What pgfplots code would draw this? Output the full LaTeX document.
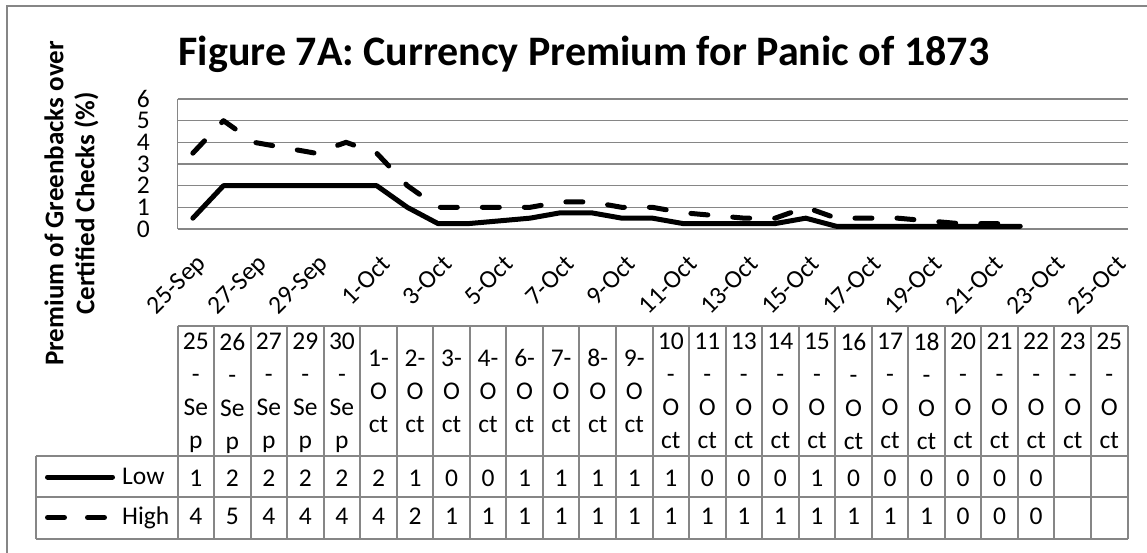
\documentclass[border=0pt]{standalone}
\usepackage{pgfplots}
\pgfplotsset{compat=1.18}
\usepackage{pgfplotstable}
\usepackage{fontspec}
\setmainfont{Carlito}
\definecolor{gridgray}{RGB}{134,134,134}
\newcommand\tf{\fontsize{25.5bp}{33bp}\selectfont}

% d = day index (0 = 25-Sep), low/high = premium (%), lr/hr = values shown in the data table
\pgfplotstableread{
d low high lr hr
0 0.5 3.5 1 4
1 2 5 2 5
2 2 4 2 4
4 2 3.5 2 4
5 2 4 2 4
6 2 3.5 2 4
7 1 2 1 2
8 0.25 1 0 1
9 0.25 1 0 1
11 0.5 1 1 1
12 0.75 1.25 1 1
13 0.75 1.25 1 1
14 0.5 1 1 1
15 0.5 1 1 1
16 0.25 0.75 0 1
18 0.25 0.5 0 1
19 0.25 0.5 0 1
20 0.5 1 1 1
21 0.125 0.5 0 1
22 0.125 0.5 0 1
23 0.125 0.5 0 1
25 0.125 0.25 0 0
26 0.125 0.25 0 0
27 0.125 0.25 0 0
}\premium

\begin{document}
\begin{tikzpicture}
\path[use as bounding box] (0,0) rectangle (1147bp,-553bp);
\draw[gridgray, line width=2bp] (7bp,-553bp) -- (7bp,-6bp) -- (1147bp,-6bp);
\node[font=\bfseries\fontsize{42bp}{50bp}\selectfont, anchor=base, inner sep=0pt] at (584bp,-65.5bp) {Figure 7A: Currency Premium for Panic of 1873};
\node[rotate=90, align=center, inner sep=0pt, font=\bfseries\fontsize{27bp}{31bp}\selectfont] at (71.4bp,-203.5bp) {Premium of Greenbacks over\\Certified Checks (\%)};

\begin{axis}[
  at={(177.5bp,-229bp)}, anchor=south west,
  scale only axis, width=950bp, height=130bp,
  xmin=-0.5, xmax=30.5, ymin=0, ymax=6,
  axis x line*=bottom, axis y line*=left,
  axis line style={gridgray, line width=1.5bp, -},
  ymajorgrids, grid style={gridgray, line width=1.3bp},
  ytick={0,1,...,6},
  xtick={0,2,...,30},
  xticklabels={25-Sep,27-Sep,29-Sep,1-Oct,3-Oct,5-Oct,7-Oct,9-Oct,11-Oct,13-Oct,15-Oct,17-Oct,19-Oct,21-Oct,23-Oct,25-Oct},
  major tick length=0pt,
  /pgf/number format/assume math mode=true,
  tick label style={font=\tf},
  yticklabel style={inner sep=0pt, anchor=east, xshift=-27.5bp},
  xticklabel style={inner sep=0pt, xshift=9.5bp, yshift=-31bp, rotate=45, anchor=east},
  clip=false,
]
\addplot[black, line width=5bp, line join=round, line cap=round] table[x=d, y=low] {\premium};
\addplot[black, line width=5bp, line join=round, line cap=round, dash pattern=on 17bp off 25bp] table[x=d, y=high] {\premium};
\end{axis}

% data table grid
\foreach \k in {0,...,26} \draw[gridgray, line width=2bp] ({177.5bp+\k*36.5385bp},-326bp) -- ({177.5bp+\k*36.5385bp},-539bp);
\draw[gridgray, line width=2bp] (177.5bp,-326bp) -- (1127.5bp,-326bp);
\draw[gridgray, line width=2bp] (35.7bp,-456.3bp) -- (1127.5bp,-456.3bp);
\draw[gridgray, line width=2bp] (35.7bp,-497.3bp) -- (1127.5bp,-497.3bp);
\draw[gridgray, line width=2bp] (35.7bp,-539bp) -- (1127.5bp,-539bp);
\draw[gridgray, line width=2bp] (35.7bp,-456.3bp) -- (35.7bp,-539bp);

% legend keys of the data table
\draw[black, line width=5bp, line cap=round] (47.5bp,-477bp) -- (112.5bp,-477bp);
\node[font=\tf, anchor=base west, inner sep=0pt] at (122bp,-484.7bp) {Low};
\draw[black, line width=5bp, line cap=round, dash pattern=on 17bp off 23bp] (47.5bp,-517.5bp) -- (105bp,-517.5bp);
\node[font=\tf, anchor=base west, inner sep=0pt] at (122bp,-524.7bp) {High};

\begin{axis}[
  at={(177.5bp,-539bp)}, anchor=south west,
  scale only axis, width=950bp, height=213bp,
  xmin=0, xmax=26, ymin=0, ymax=213,
  axis line style={draw=none},
  ytick=\empty,
  xtick={0.5,1.5,...,25.5},
  xticklabels={{25\\-\\Se\\p},{26\\-\\Se\\p},{27\\-\\Se\\p},{29\\-\\Se\\p},{30\\-\\Se\\p},
    {1-\\O\\ct},{2-\\O\\ct},{3-\\O\\ct},{4-\\O\\ct},{6-\\O\\ct},{7-\\O\\ct},{8-\\O\\ct},{9-\\O\\ct},
    {10\\-\\O\\ct},{11\\-\\O\\ct},{13\\-\\O\\ct},{14\\-\\O\\ct},{15\\-\\O\\ct},{16\\-\\O\\ct},{17\\-\\O\\ct},
    {18\\-\\O\\ct},{20\\-\\O\\ct},{21\\-\\O\\ct},{22\\-\\O\\ct},{23\\-\\O\\ct},{25\\-\\O\\ct}},
  xticklabel pos=upper,
  major tick length=0pt,
  xticklabel style={font=\tf, align=center, inner sep=0pt, text depth=0pt, anchor=center, yshift=-65.15bp},
  clip=false,
]
\addplot[draw=none, mark=none, nodes near coords, point meta=explicit symbolic,
  nodes near coords align={center}, nodes near coords style={font=\tf, inner sep=0pt}]
  table[x expr=\coordindex+0.5, y expr=61, meta=lr] {\premium};
\addplot[draw=none, mark=none, nodes near coords, point meta=explicit symbolic,
  nodes near coords align={center}, nodes near coords style={font=\tf, inner sep=0pt}]
  table[x expr=\coordindex+0.5, y expr=22.3, meta=hr] {\premium};
\end{axis}
\end{tikzpicture}
\end{document}
